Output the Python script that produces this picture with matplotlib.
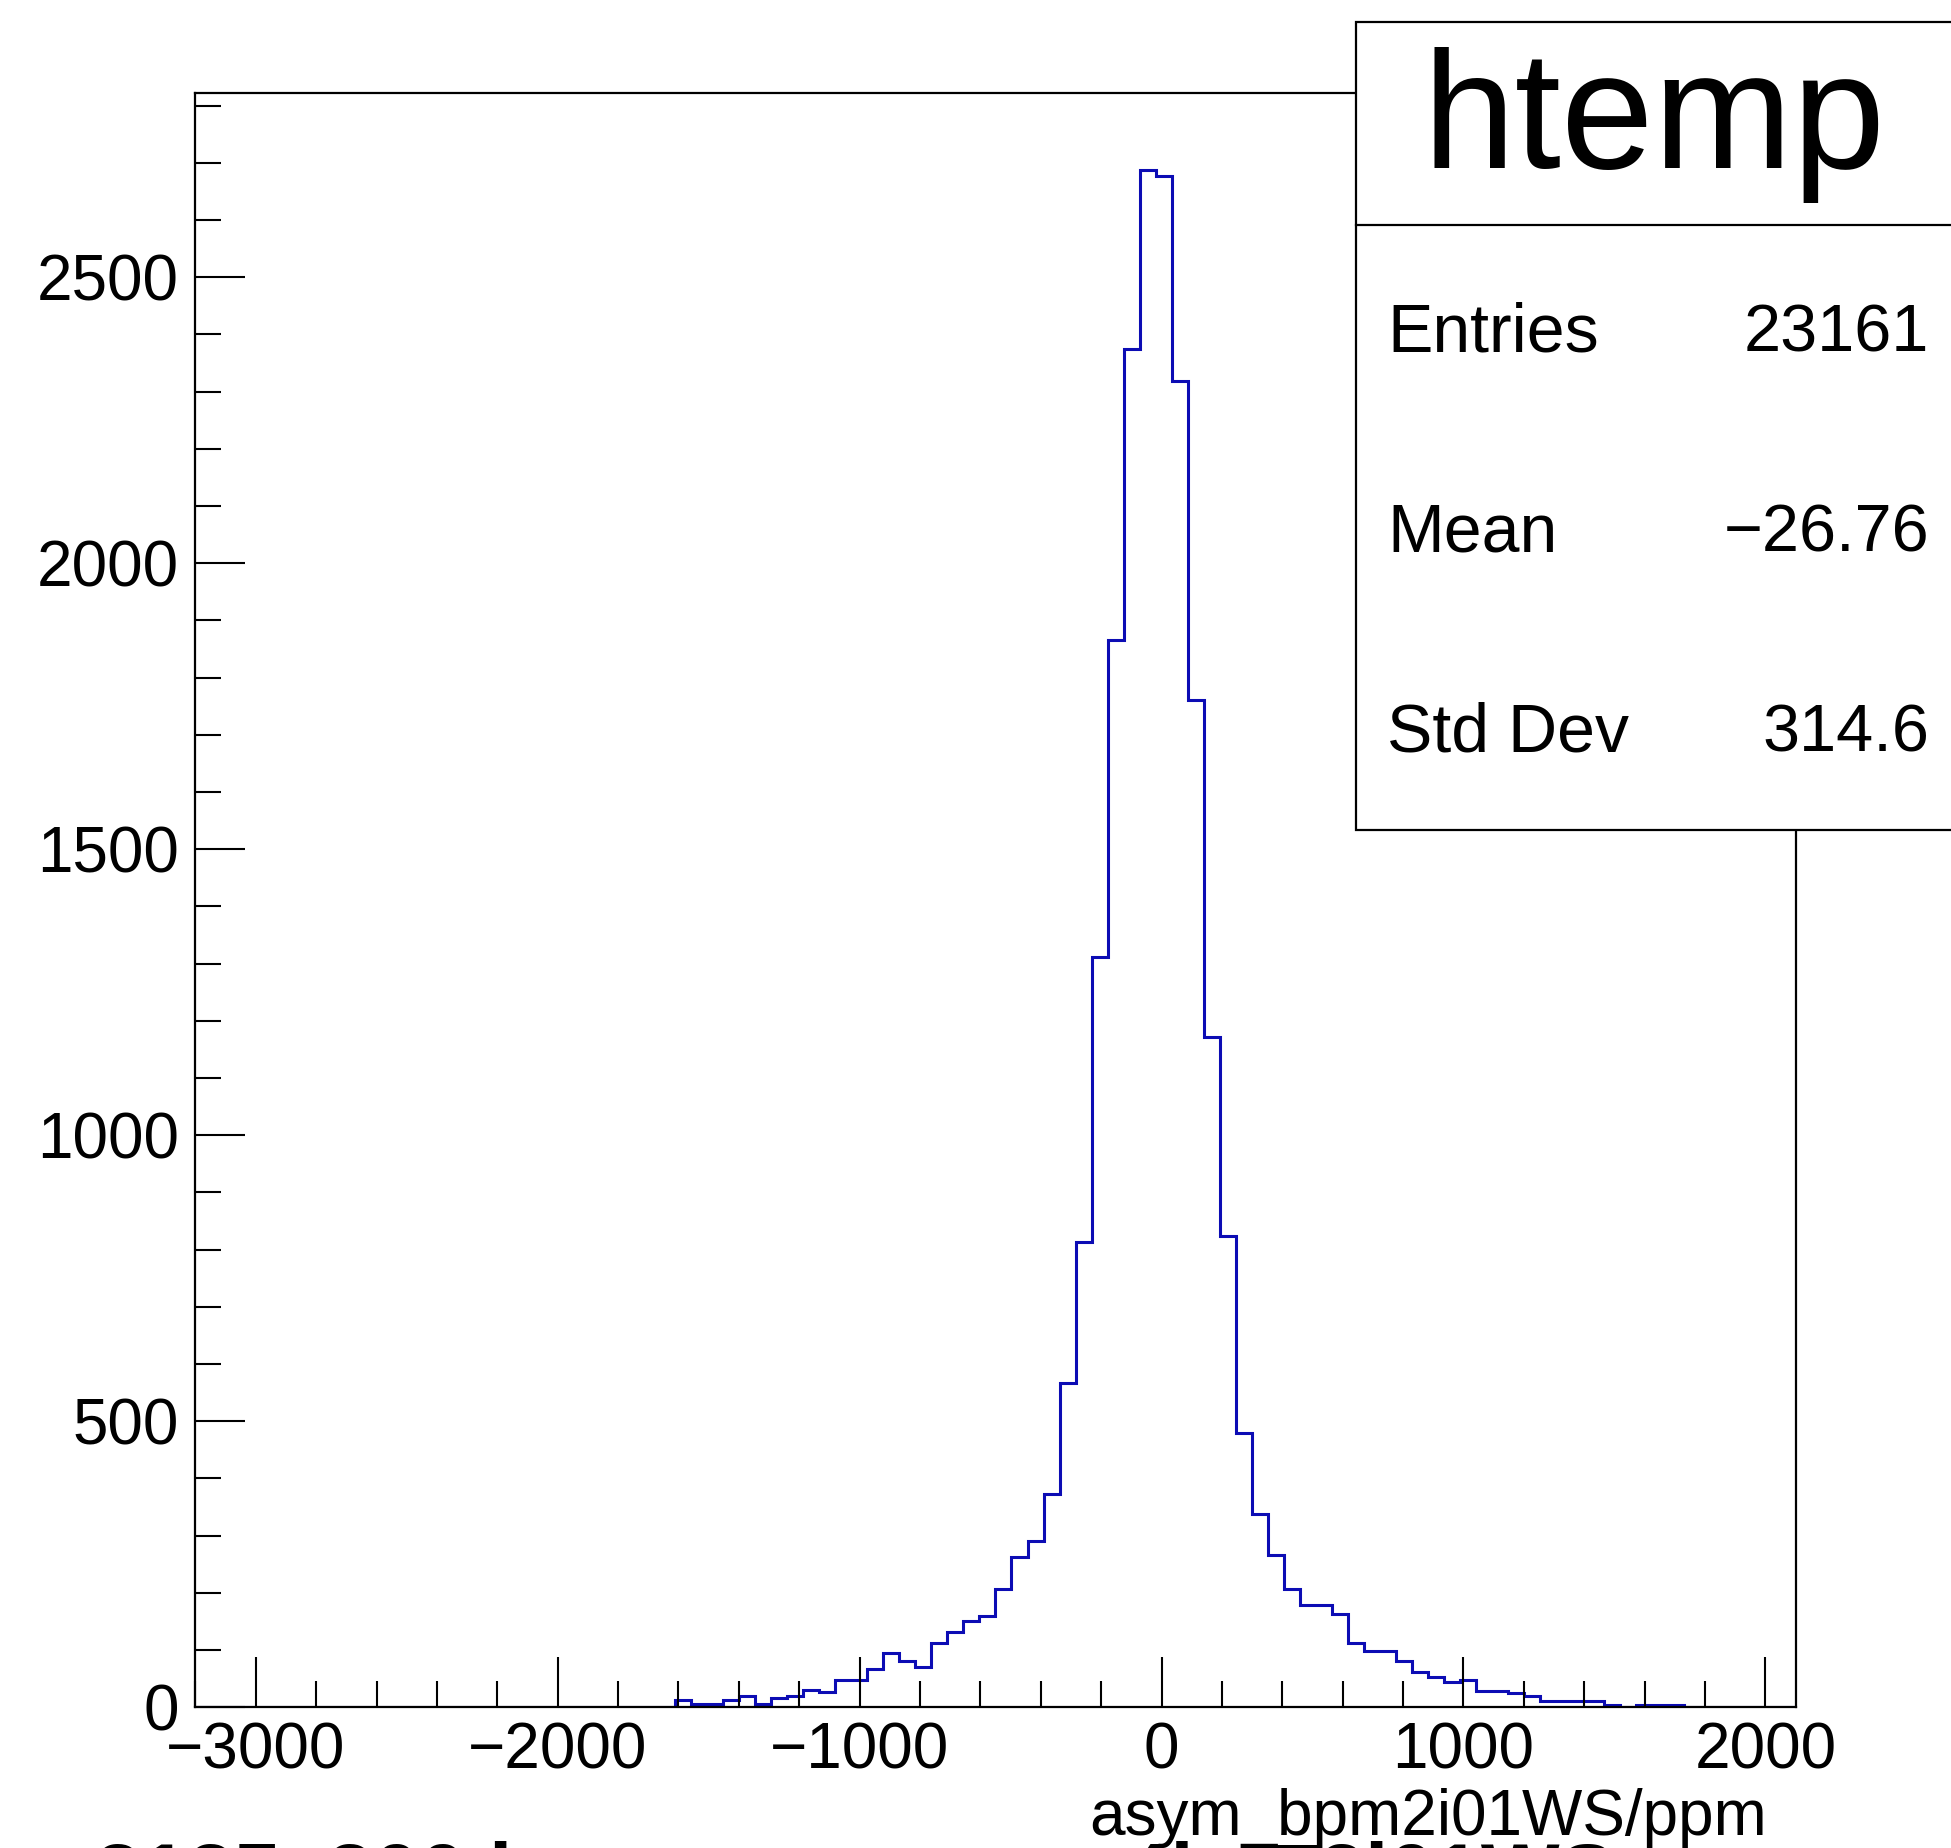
import numpy as np
import matplotlib
matplotlib.use("Agg")
import matplotlib.pyplot as plt
from matplotlib.patches import Rectangle
from matplotlib.lines import Line2D
from matplotlib.ticker import MultipleLocator

plt.rcParams['font.family'] = ['Liberation Sans', 'DejaVu Sans']

# histogram definition (ROOT htemp, 100 bins)
x_min, x_max, n_bins = -3200, 2100, 100
first_bin = 30
counts = [12, 6, 6, 12, 20, 6, 16, 20, 30, 26,
          48, 48, 67, 94, 80, 71, 113, 131, 150, 160,
          207, 262, 290, 372, 566, 814, 1311, 1866, 2374, 2687,
          2676, 2319, 1760, 1172, 823, 479, 337, 266, 207, 178,
          178, 163, 112, 98, 98, 80, 61, 52, 44, 47,
          29, 29, 24, 19, 10, 10, 10, 10, 4, 1,
          4, 4, 4]

stat_names = ["Entries", "Mean", "Std Dev"]
stat_values = ["23161", "\u221226.76", "314.6"]
hist_name = "htemp"
x_title = "asym_bpm2i01WS/ppm"

values = np.zeros(n_bins)
values[first_bin:first_bin + len(counts)] = counts
edges = np.linspace(x_min, x_max, n_bins + 1)

fig = plt.figure(figsize=(19.51, 18.48), dpi=100)
ax = fig.add_axes([0.10015, 0.07619, 0.8202, 0.87332])

ax.stairs(values, edges, color='#0c0cb4', lw=2.2)
ax.set_xlim(x_min, x_max)
ax.set_ylim(0, 1.05 * max(counts))

ax.xaxis.set_major_locator(MultipleLocator(1000))
ax.xaxis.set_minor_locator(MultipleLocator(200))
ax.yaxis.set_major_locator(MultipleLocator(500))
ax.yaxis.set_minor_locator(MultipleLocator(100))
ax.tick_params(which='both', direction='in', top=False, right=False,
               labelsize=46, width=1.5, colors='black')
ax.tick_params(which='major', length=36)
ax.tick_params(which='minor', length=18.5)
ax.tick_params(axis='x', pad=10)
ax.tick_params(axis='y', pad=12)
for s in ax.spines.values():
    s.set_linewidth(1.6)

# x axis title, right aligned
fig.text(1767 / 1951, 1 - 1835 / 1848, x_title, ha='right', va='baseline', fontsize=46)

# stats box
box = Rectangle((1356 / 1951, 1 - 830 / 1848), 0.4, (830 - 22) / 1848,
                transform=fig.transFigure, facecolor='white', edgecolor='black',
                lw=1.6, zorder=10)
fig.patches.append(box)
fig.lines.append(Line2D([1356 / 1951, 1.0], [1 - 225 / 1848] * 2,
                        transform=fig.transFigure, color='black', lw=1.6, zorder=11))
fig.text(1654 / 1951, 1 - 168 / 1848, hist_name, ha='center', va='baseline',
         fontsize=120, zorder=12)
for i, (name, val) in enumerate(zip(stat_names, stat_values)):
    yb = 1 - (352 + i * 200) / 1848
    fig.text(1387 / 1951, yb, name, ha='left', va='baseline', fontsize=49, zorder=12)
    fig.text(1929 / 1951, yb, val, ha='right', va='baseline', fontsize=48, zorder=12)

# cut-off title lines at the bottom edge
fig.text(95 / 1951, 1 - 1841 / 1848, "3135_300 l", ha='left', va='top',
         fontsize=60, fontweight='bold')
fig.text(1125 / 1951, 1 - 1841 / 1848, "4b_T2i01WS", ha='left', va='top',
         fontsize=60, fontweight='bold')

fig.savefig("out.png", dpi=100)
